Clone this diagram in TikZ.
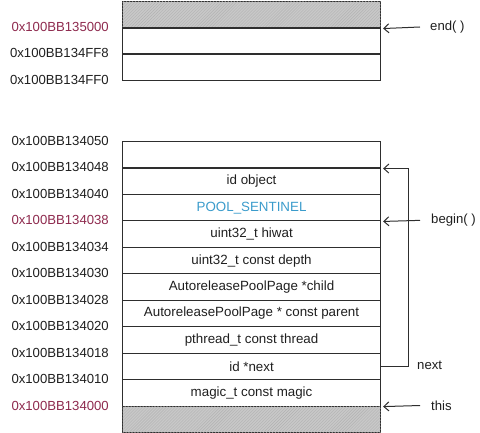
\documentclass[tikz,border=0pt]{standalone}
\usepackage{fontspec}
\setmainfont{Liberation Sans}
\usetikzlibrary{arrows.meta,patterns}
\definecolor{addrred}{HTML}{8E2A4E}
\definecolor{sentblue}{HTML}{3A9BCB}
\definecolor{lc}{HTML}{2E2E2E}
\definecolor{hatchgray}{HTML}{C8C8C8}
\begin{document}
\begin{tikzpicture}[x=1bp,y=-1bp,
  cell/.style={draw=lc, line width=1.1bp, minimum width=258bp, minimum height=26.45bp,
    inner sep=0pt, anchor=north west, font=\fontsize{13.4}{15}\selectfont, text=black!88},
  graycell/.style={cell, fill=hatchgray, postaction={pattern=north east lines, pattern color=gray!60}},
  addr/.style={anchor=east, inner sep=0pt, font=\fontsize{13.2}{15}\selectfont, text=black!88},
  redaddr/.style={addr, text=addrred},
  side/.style={anchor=west, inner sep=0pt, font=\fontsize{13.2}{15}\selectfont, text=black!88},
  arr/.style={draw=lc, line width=1bp, -{Straight Barb[length=5bp,width=9bp,line width=1bp]}}
]
\useasboundingbox (0,0) rectangle (480,433);
% top block
\node[graycell] (g1) at (122,1) {};
\node[cell] (t1) at (122,27) {};
\node[cell] (t2) at (122,53.45) {};
% lower block
\node[cell] (r0) at (122,141) {};
\node[cell] (r1) at (122,167.45) {id object};
\node[cell, text=sentblue] (r2) at (122,193.9) {POOL\_SENTINEL};
\node[cell] (r3) at (122,220.35) {uint32\_t hiwat};
\node[cell] (r4) at (122,246.8) {uint32\_t const depth};
\node[cell] (r5) at (122,273.25) {AutoreleasePoolPage *child};
\node[cell] (r6) at (122,299.7) {AutoreleasePoolPage * const parent};
\node[cell] (r7) at (122,326.15) {pthread\_t const thread};
\node[cell] (r8) at (122,352.6) {id *next};
\node[cell] (r9) at (122,379.05) {magic\_t const magic};
\node[graycell] (r10) at (122,405.5) {};
% addresses
\node[redaddr] (a1) at (109,27) {0x100BB135000};
\node[addr] (a2) at (109,53.45) {0x100BB134FF8};
\node[addr] (a3) at (109,79.9) {0x100BB134FF0};
\node[addr] (b0) at (109,141) {0x100BB134050};
\node[addr] (b1) at (109,167.45) {0x100BB134048};
\node[addr] (b2) at (109,193.9) {0x100BB134040};
\node[redaddr] (b3) at (109,220.35) {0x100BB134038};
\node[addr] (b4) at (109,246.8) {0x100BB134034};
\node[addr] (b5) at (109,273.25) {0x100BB134030};
\node[addr] (b6) at (109,299.7) {0x100BB134028};
\node[addr] (b7) at (109,326.15) {0x100BB134020};
\node[addr] (b8) at (109,352.6) {0x100BB134018};
\node[addr] (b9) at (109,379.05) {0x100BB134010};
\node[redaddr] (b10) at (109,405.5) {0x100BB134000};
% side labels
\node[side] (endl) at (430,27) {end( )};
\node[side] (beginl) at (431,220.35) {begin( )};
\node[side] (nextl) at (417,365.8) {next};
\node[side] (thisl) at (431,405.5) {this};
% arrows
\draw[arr] ([xshift=-10bp]endl.west) -- ([xshift=2bp]g1.south east);
\draw[arr] ([xshift=-11bp]beginl.west) -- ([xshift=2bp]r2.south east);
\draw[arr] ([xshift=-11bp]thisl.west) -- ([xshift=2bp]r9.south east);
\draw[arr] (r8.east) -- ++(27,0) |- ([xshift=2bp]r0.south east);
\end{tikzpicture}
\end{document}
